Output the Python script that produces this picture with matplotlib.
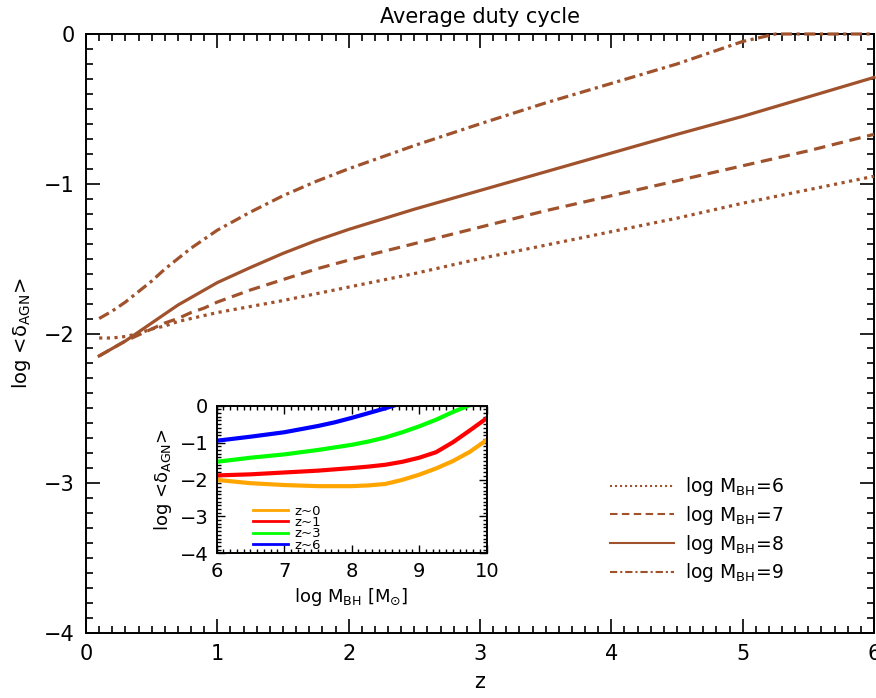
import numpy as np
import matplotlib
matplotlib.use("Agg")
import matplotlib.pyplot as plt
from matplotlib.lines import Line2D
from matplotlib.ticker import MultipleLocator, FuncFormatter

plt.rcParams['font.family'] = ['DejaVu Sans']
plt.rcParams['mathtext.default'] = 'regular'

# ---- main panel data: log duty cycle vs redshift ----
z = [0.1, 0.2, 0.3, 0.4, 0.5, 0.6, 0.7, 0.8, 0.9, 1.0, 1.25, 1.5, 1.75, 2.0,
     2.5, 3.0, 3.5, 4.0, 4.5, 5.0, 5.25, 5.5, 6.0]
duty_m6 = [-2.03, -2.03, -2.02, -2.00, -1.97, -1.95, -1.92, -1.90, -1.88, -1.86, -1.82, -1.78, -1.735, -1.69,
           -1.60, -1.50, -1.41, -1.32, -1.23, -1.13, -1.085, -1.04, -0.95]
duty_m7 = [-2.15, -2.10, -2.05, -2.01, -1.97, -1.93, -1.90, -1.86, -1.83, -1.79, -1.71, -1.64, -1.57, -1.51,
           -1.40, -1.29, -1.18, -1.08, -0.98, -0.88, -0.83, -0.78, -0.67]
duty_m8 = [-2.15, -2.10, -2.05, -1.99, -1.93, -1.87, -1.81, -1.76, -1.71, -1.66, -1.56, -1.465, -1.38, -1.305,
           -1.17, -1.045, -0.92, -0.795, -0.67, -0.55, -0.485, -0.42, -0.29]
duty_m9 = [-1.90, -1.85, -1.79, -1.72, -1.65, -1.57, -1.50, -1.43, -1.37, -1.31, -1.19, -1.08, -0.985, -0.90,
           -0.745, -0.60, -0.46, -0.33, -0.20, -0.05, 0.0, 0.0, 0.0]
main_labels = ['log M$_{\\rm BH}$=6', 'log M$_{\\rm BH}$=7', 'log M$_{\\rm BH}$=8', 'log M$_{\\rm BH}$=9']

# ---- inset data: log duty cycle vs BH mass ----
mass_z0 = [6.0, 6.5, 7.0, 7.5, 8.0, 8.25, 8.5, 8.75, 9.0, 9.25, 9.5, 9.75, 10.0]
duty_z0 = [-2.01, -2.10, -2.15, -2.18, -2.18, -2.16, -2.12, -2.01, -1.87, -1.70, -1.50, -1.25, -0.93]
mass_z1 = [6.0, 6.5, 7.0, 7.5, 8.0, 8.25, 8.5, 8.75, 9.0, 9.25, 9.5, 9.75, 10.0]
duty_z1 = [-1.89, -1.86, -1.81, -1.76, -1.69, -1.65, -1.60, -1.52, -1.41, -1.26, -0.99, -0.67, -0.34]
mass_z3 = [6.0, 6.5, 7.0, 7.5, 8.0, 8.25, 8.5, 8.75, 9.0, 9.25, 9.5, 9.73]
duty_z3 = [-1.52, -1.41, -1.32, -1.20, -1.06, -0.97, -0.86, -0.72, -0.56, -0.38, -0.17, 0.0]
mass_z6 = [6.0, 6.5, 7.0, 7.5, 7.75, 8.0, 8.25, 8.5, 8.62]
duty_z6 = [-0.95, -0.84, -0.72, -0.55, -0.45, -0.33, -0.20, -0.07, 0.0]
inset_labels = ['z~0', 'z~1', 'z~3', 'z~6']

brown = '#A0522D'
W, H = 876, 698
fig = plt.figure(figsize=(W / 100, H / 100), dpi=100)


def minus_fmt(v, p):
    return ('\u2212%d' % round(-v)) if v < 0 else '%d' % round(v)


ax = fig.add_axes([86 / W, 1 - 633 / H, 788 / W, 599 / H])
styles = [(0, (1, 1.4)), (0, (3.6, 2.1)), '-', (0, (3.5, 1.4, 1, 1.4))]
series = [duty_m6, duty_m7, duty_m8, duty_m9]
for vals, ls in zip(series, styles):
    ax.plot(z, vals, color=brown, lw=2.3, linestyle=ls, clip_on=False, zorder=3)

ax.set_xlim(0, 6)
ax.set_ylim(-4, 0)
ax.xaxis.set_major_locator(MultipleLocator(1))
ax.xaxis.set_minor_locator(MultipleLocator(0.1))
ax.yaxis.set_major_locator(MultipleLocator(1))
ax.yaxis.set_minor_locator(MultipleLocator(0.1))
ax.tick_params(which='both', direction='in', top=True, right=True, width=1.2, labelsize=15, pad=8)
ax.tick_params(which='major', length=10)
ax.tick_params(which='minor', length=5)
for s in ax.spines.values():
    s.set_linewidth(1.4)
ax.yaxis.set_major_formatter(FuncFormatter(minus_fmt))
ax.set_xlabel('z', fontsize=15, labelpad=6)
ax.set_ylabel('log <$\\delta_{\\rm AGN}$>', fontsize=14, labelpad=8)
ax.set_title('Average duty cycle', fontsize=15, pad=8)

handles = [Line2D([0], [0], color=brown, lw=1.5, linestyle=ls) for ls in styles]
ax.legend(handles, main_labels, loc='upper left', frameon=False, fontsize=13.5,
          handlelength=3.4, handletextpad=0.6, labelspacing=0.3, borderpad=0,
          bbox_to_anchor=(601 / W, 1 - 466 / H), bbox_transform=fig.transFigure)

# ---- inset ----
axi = fig.add_axes([216.7 / W, 1 - 553.3 / H, 270 / W, 147.6 / H])
inset_sets = [(mass_z0, duty_z0, '#FFA500'), (mass_z1, duty_z1, '#FF0000'),
              (mass_z3, duty_z3, '#00FF00'), (mass_z6, duty_z6, '#0000FF')]
for m, d, c in inset_sets:
    axi.plot(m, d, color=c, lw=3)
axi.set_xlim(6, 10)
axi.set_ylim(-4, 0)
axi.xaxis.set_major_locator(MultipleLocator(1))
axi.xaxis.set_minor_locator(MultipleLocator(0.1))
axi.yaxis.set_major_locator(MultipleLocator(1))
axi.yaxis.set_minor_locator(MultipleLocator(0.1))
axi.tick_params(which='both', direction='in', top=True, right=True, width=1.0, labelsize=14, pad=6)
axi.tick_params(which='major', length=6)
axi.tick_params(which='minor', length=3)
for s in axi.spines.values():
    s.set_linewidth(1.4)
axi.yaxis.set_major_formatter(FuncFormatter(minus_fmt))
axi.set_xlabel('log M$_{\\rm BH}$ [M$_{\\odot}$]', fontsize=13, labelpad=4)
axi.set_ylabel('log <$\\delta_{\\rm AGN}$>', fontsize=13, labelpad=4)
ih = [Line2D([0], [0], color=c, lw=2) for _, _, c in inset_sets]
axi.legend(ih, inset_labels, loc='upper left', frameon=False, fontsize=9.5,
           handlelength=2.7, handletextpad=0.5, labelspacing=-0.12, borderpad=0,
           bbox_to_anchor=(246 / W, 1 - 498 / H), bbox_transform=fig.transFigure)

fig.savefig('out.png', dpi=100)
